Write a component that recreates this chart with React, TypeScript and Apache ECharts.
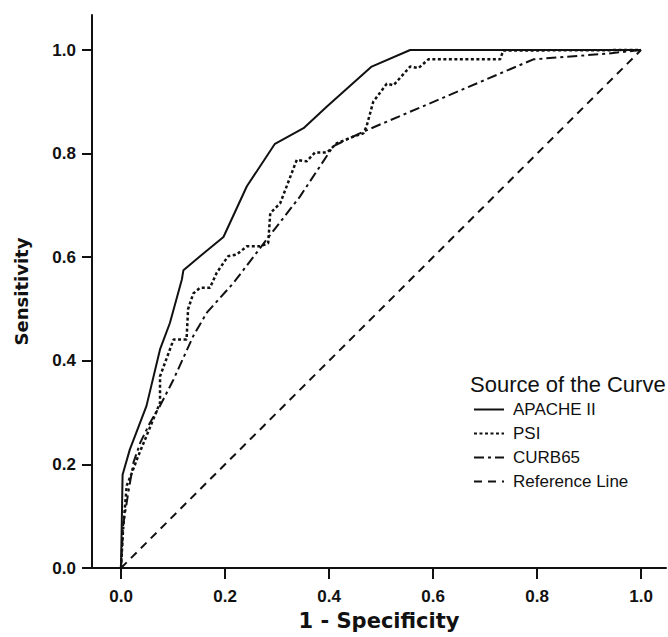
import React, { useEffect, useRef } from "react";
import * as echarts from "echarts";

const tickValues = [0, 0.2, 0.4, 0.6, 0.8, 1.0];

const apacheX = [0, 0.003, 0.017, 0.027, 0.049, 0.075, 0.094, 0.117, 0.12, 0.152, 0.197, 0.242, 0.296, 0.351, 0.396, 0.482, 0.556, 1.0];
const apacheY = [0, 0.18, 0.229, 0.255, 0.313, 0.422, 0.473, 0.557, 0.575, 0.602, 0.639, 0.737, 0.819, 0.849, 0.891, 0.968, 1.0, 1.0];

const psiX = [0, 0.004, 0.011, 0.021, 0.033, 0.049, 0.062, 0.075, 0.075, 0.101, 0.126, 0.129, 0.139, 0.152, 0.171, 0.184, 0.206, 0.222, 0.242, 0.267, 0.283, 0.287, 0.306, 0.338, 0.357, 0.373, 0.396, 0.415, 0.447, 0.466, 0.472, 0.485, 0.511, 0.524, 0.556, 0.572, 0.591, 0.729, 0.735, 1.0];
const psiY = [0, 0.075, 0.159, 0.184, 0.216, 0.255, 0.287, 0.319, 0.37, 0.441, 0.441, 0.5, 0.53, 0.541, 0.541, 0.57, 0.602, 0.605, 0.621, 0.621, 0.627, 0.685, 0.704, 0.788, 0.785, 0.802, 0.802, 0.82, 0.833, 0.839, 0.852, 0.9, 0.935, 0.932, 0.968, 0.965, 0.982, 0.982, 0.999, 1.0];

const curbX = [0, 0.004, 0.014, 0.024, 0.037, 0.056, 0.075, 0.101, 0.139, 0.165, 0.216, 0.28, 0.344, 0.408, 0.434, 0.472, 0.793, 0.934, 1.0];
const curbY = [0, 0.082, 0.146, 0.204, 0.242, 0.281, 0.313, 0.364, 0.448, 0.493, 0.55, 0.634, 0.717, 0.814, 0.827, 0.845, 0.982, 0.993, 1.0];

const refX = [0, 1];
const refY = [0, 1];

const seriesNames = ["APACHE II", "PSI", "CURB65", "Reference Line"];

const pairs = (xs: number[], ys: number[]) => xs.map((x, i) => [x, ys[i]]);

export default function App() {
  const ref = useRef<HTMLDivElement>(null);
  useEffect(() => {
    if (!ref.current) return;
    const chart = echarts.init(ref.current, undefined, { renderer: "svg" });
    const black = "#111";
    const tickFont = {
      color: black,
      fontFamily: "Liberation Sans, Arial, sans-serif",
      fontWeight: "bold" as const,
      fontSize: 17,
    };
    const mkSeries = (name: string, data: number[][], type: any, width: number) => ({
      name,
      type: "line",
      data,
      symbol: "none",
      showSymbol: false,
      silent: true,
      lineStyle: { color: black, width, type },
      itemStyle: { color: black },
    });
    chart.setOption({
      animation: false,
      backgroundColor: "#fff",
      grid: { left: 92, right: 2, top: 15, bottom: 69, containLabel: false },
      title: {
        text: "Source of the Curve",
        left: 470,
        top: 373,
        padding: 0,
        textStyle: {
          color: black,
          fontFamily: "Liberation Sans, Arial, sans-serif",
          fontWeight: "normal",
          fontSize: 22,
        },
      },
      legend: {
        data: seriesNames,
        orient: "vertical",
        left: 473,
        top: 401,
        padding: 0,
        itemWidth: 30,
        itemHeight: 14,
        itemGap: 7,
        selectedMode: false,
        itemStyle: { opacity: 0 },
        textStyle: {
          color: black,
          fontFamily: "Liberation Sans, Arial, sans-serif",
          fontSize: 17,
          padding: [0, 0, 0, 4],
        },
      },
      xAxis: {
        type: "value",
        min: -0.0558,
        max: 1.048,
        name: "1 - Specificity",
        nameLocation: "middle",
        nameGap: 42,
        nameTextStyle: {
          color: black,
          fontFamily: "DejaVu Sans, sans-serif",
          fontWeight: "bold",
          fontSize: 21,
        },
        axisLine: { show: true, onZero: false, lineStyle: { color: black, width: 2 } },
        axisTick: { show: true, length: 11, customValues: tickValues, lineStyle: { color: black, width: 2 } },
        axisLabel: {
          ...tickFont,
          margin: 20,
          customValues: tickValues,
          formatter: (v: number) => v.toFixed(1),
        },
        splitLine: { show: false },
      },
      yAxis: {
        type: "value",
        min: 0,
        max: 1.0676,
        name: "Sensitivity",
        nameLocation: "middle",
        nameGap: 62,
        nameTextStyle: {
          color: black,
          fontFamily: "DejaVu Sans, sans-serif",
          fontWeight: "bold",
          fontSize: 18,
        },
        axisLine: { show: true, onZero: false, lineStyle: { color: black, width: 2 } },
        axisTick: { show: true, length: 10, customValues: tickValues, lineStyle: { color: black, width: 2 } },
        axisLabel: {
          ...tickFont,
          margin: 16,
          customValues: tickValues,
          formatter: (v: number) => v.toFixed(1),
        },
        splitLine: { show: false },
      },
      series: [
        mkSeries(seriesNames[0], pairs(apacheX, apacheY), "solid", 2),
        mkSeries(seriesNames[1], pairs(psiX, psiY), [3, 2.5], 2.5),
        mkSeries(seriesNames[2], pairs(curbX, curbY), [10, 4, 3, 4], 2),
        mkSeries(seriesNames[3], pairs(refX, refY), [8, 6], 2),
      ],
    });
    return () => chart.dispose();
  }, []);
  return (
    <div
      ref={ref}
      style={{ position: "fixed", left: 0, top: 0, width: 668, height: 637, background: "#fff" }}
    />
  );
}
